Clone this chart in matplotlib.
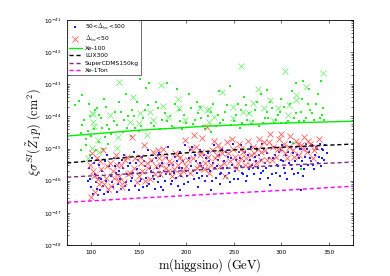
import matplotlib
matplotlib.use("Agg")
import matplotlib.pyplot as plt
import numpy as np
from matplotlib.ticker import LogLocator, NullFormatter, FixedLocator

plt.rcParams['mathtext.fontset'] = 'cm'
plt.rcParams['font.family'] = ['DejaVu Sans']

# ---- limit curves (mass in GeV, log10 sigma in cm^2) ----
line_mass = [75, 150, 225, 300, 375]
xe100_log = [-44.61, -44.43, -44.30, -44.21, -44.15]
lux300_log = [-45.45, -45.24, -45.08, -44.96, -44.86]
cdms_log = [-45.89, -45.77, -45.64, -45.52, -45.42]
xe1ton_log = [-46.67, -46.54, -46.42, -46.30, -46.17]

# ---- scatter points: (mass, log10 sigma) ----
green_dots = [(83,-43.65),(91,-43.34),(87,-43.52),(91,-44.27),(90,-44.52),(97,-44.45),(109,-43.96),
 (117,-44.27),(127,-44.27),(112,-44.35),(106,-43.75),(139,-43.98),(143,-43.8),(151,-42.85),(161,-42.97),
 (180,-42.97),(158,-43.12),(285,-43.18),(323,-42.9),(341,-42.9),(135,-44.1),(146,-44.35),(155,-44.05),
 (163,-44.22),(168,-43.55),(172,-44.4),(178,-43.9),(185,-44.3),(188,-43.62),(194,-44.15),(198,-43.95),
 (203,-43.3),(207,-44.25),(211,-43.55),(216,-44.05),(220,-44.4),(226,-43.85),(231,-44.3),(234,-43.2),
 (239,-44.1),(243,-43.65),(247,-44.28),(252,-43.95),(256,-44.35),(261,-43.4),(264,-44.1),(268,-44.25),
 (272,-43.8),(276,-44.3),(279,-43.3),(283,-44.05),(288,-43.55),(292,-44.2),(296,-43.95),(300,-44.22),
 (303,-43.7),(307,-44.15),(311,-43.2),(315,-43.9),(318,-44.15),(322,-43.45),(326,-44.05),(330,-43.8),
 (334,-44.12),(338,-43.3),(342,-43.95),(345,-44.1),(315,-42.95),(329,-43.15),(300,-43.45),(246,-43.05),
 (190,-43.15),(130,-43.55),(125,-43.85),(116,-43.7),(104,-43.8),(99,-44.0),(100,-44.6),(95,-44.7),
 (108,-44.8),(115,-44.65),(121,-44.55),(134,-44.5),(142,-44.6),(226,-44.5),(243,-45.9),(320,-45.64),
 (312,-44.83),(212,-43.9),(180,-44.15),(160,-43.65),(150,-44.45),(137,-43.3),(263,-43.65),(285,-43.85),
 (233,-43.95),(257,-43.8),(196,-44.4),(205,-43.75),(336,-43.6),
 (93,-44.1),(98,-43.6),(103,-44.4),(111,-44.05),(114,-43.45),(119,-44.4),(124,-44.15),(132,-43.85),
 (138,-44.35),(145,-44.0),(148,-43.55),(153,-44.3),(157,-43.8),(166,-44.3),(170,-43.75),(175,-44.1),
 (183,-44.0),(187,-44.35),(192,-43.8),(200,-44.2),(209,-44.1),(214,-43.7),(218,-44.3),(223,-44.0),
 (228,-43.6),(236,-44.2),(241,-43.85),(250,-44.15),(254,-43.6),(259,-44.2),(266,-43.9),(270,-44.15),
 (274,-43.55),(281,-44.2),(286,-44.05),(290,-43.75),(294,-44.1),(298,-43.85),(305,-44.2),(309,-43.6),
 (313,-44.05),(320,-43.85),(324,-44.15),(328,-43.6),(332,-43.9),(340,-44.05),(344,-43.75),
 (90,-45.05),(95,-44.9),(99,-45.2),(105,-45.05),(113,-45.0),(118,-44.85)]

green_x = [(130,-42.93),(174,-43.02),(257,-42.43),(304,-42.59),(344,-42.65),(275,-43.15),(326,-43.09),
 (238,-43.24),(144,-43.4),(191,-43.46),(192,-43.74),(215,-43.74),(222,-43.8),(249,-43.71),(260,-43.87),
 (270,-43.59),(282,-43.74),(296,-43.74),(308,-43.65),(315,-43.49),(102,-43.93),(120,-43.96),(152,-43.9),
 (162,-43.87),(176,-43.68),(101,-43.9),(102,-44.18),(103,-44.3),(128,-44.64),(141,-44.18),(150,-44.2),
 (159,-44.58),(165,-44.1),(181,-44.02),(199,-44.1),(107,-44.74),(101,-44.99),(109,-45.11),(127,-44.99),
 (97,-45.3),(224,-43.77),(229,-44.02),(224,-44.18),(249,-44.05),(268,-44.18),(291,-44.12),(307,-43.96),
 (315,-43.34),(288,-43.5),(266,-43.9)]

blue_dots = [(98,-45.6),(99,-45.95),(100,-46.2),(101,-45.3),(102,-46.4),(104,-45.8),(105,-46.05),(107,-46.45),
 (108,-45.5),(109,-45.9),(110,-46.3),(112,-45.7),(113,-46.15),(115,-45.4),(116,-46.0),(118,-46.36),
 (119,-45.55),(121,-45.85),(123,-46.2),(124,-45.3),(126,-45.75),(128,-46.1),(129,-45.45),(131,-45.95),
 (132,-46.25),(134,-45.6),(135,-45.2),(137,-46.05),(138,-45.8),(140,-46.3),(141,-45.45),(143,-45.9),
 (145,-45.1),(146,-46.15),(148,-45.65),(149,-45.35),(151,-46.0),(152,-45.75),(154,-45.25),(155,-46.2),
 (157,-45.55),(158,-45.9),(160,-45.05),(161,-46.1),(163,-45.7),(164,-45.4),(166,-45.95),(167,-46.25),
 (169,-45.6),(171,-45.15),(172,-45.85),(174,-46.2),(175,-45.45),(177,-45.7),(178,-46.0),(180,-45.3),
 (181,-44.95),(183,-45.8),(184,-46.1),(186,-45.5),(188,-45.25),(189,-45.9),(191,-46.15),(192,-45.6),
 (194,-45.1),(195,-45.85),(197,-45.4),(199,-44.9),(200,-45.7),(202,-46.05),(203,-45.3),(205,-45.55),
 (206,-44.95),(208,-45.95),(209,-45.2),(211,-45.75),(212,-46.2),(214,-45.45),(215,-45.05),(217,-45.85),
 (218,-45.6),(220,-46.0),(221,-45.3),(223,-45.15),(225,-45.7),(226,-46.3),(228,-45.45),(229,-44.9),
 (231,-45.9),(232,-45.55),(234,-45.2),(235,-46.1),(237,-45.75),(238,-45.0),(240,-45.4),(241,-45.85),
 (243,-45.6),(244,-45.25),(246,-46.05),(248,-45.5),(249,-44.85),(251,-45.7),(252,-45.35),(254,-45.95),
 (255,-45.1),(257,-45.55),(258,-44.9),(260,-45.8),(261,-45.4),(263,-46.0),(265,-45.2),(266,-45.65),
 (268,-44.95),(269,-45.5),(271,-45.8),(272,-45.25),(274,-45.05),(275,-45.6),(277,-45.95),(278,-45.35),
 (280,-44.85),(281,-45.7),(283,-45.45),(285,-45.15),(286,-45.9),(288,-46.14),(289,-45.55),(291,-45.3),
 (292,-44.95),(294,-45.75),(295,-45.5),(297,-45.1),(298,-45.85),(300,-45.35),(301,-44.9),(303,-45.6),
 (305,-45.2),(306,-45.95),(308,-45.45),(309,-44.8),(311,-45.65),(312,-45.15),(314,-45.4),(315,-44.95),
 (317,-45.75),(318,-45.3),(320,-45.55),(321,-45.0),(323,-45.85),(325,-45.25),(326,-44.85),(328,-45.5),
 (329,-45.1),(331,-45.4),(332,-44.9),(334,-45.65),(335,-45.2),(337,-45.0),(338,-45.45),(340,-44.85),
 (342,-45.3),(344,-45.05),(346,-44.9),(348,-45.15),
 (97,-46.0),(103,-45.45),(106,-46.25),(111,-45.95),(114,-46.4),(117,-45.2),(122,-46.05),(125,-45.55),
 (127,-46.35),(130,-45.7),(133,-45.35),(136,-46.15),(139,-45.55),(142,-46.0),(144,-45.75),(147,-45.45),
 (150,-46.3),(153,-45.95),(156,-45.4),(159,-46.15),(162,-45.6),(165,-45.85),(168,-45.3),(170,-46.05),
 (173,-45.55),(176,-46.3),(179,-45.8),(182,-45.5),(185,-46.0),(187,-45.75),(190,-45.4),(193,-46.3),
 (196,-45.6),(198,-46.1),(201,-45.85),(204,-45.05),(207,-45.7),(210,-45.4),(213,-45.9),(216,-45.55),
 (219,-45.2),(222,-45.85),(224,-45.4),(227,-46.0),(230,-45.6),(233,-45.35),(236,-45.8),(239,-45.6),
 (242,-45.1),(245,-45.75),(247,-45.3),(250,-45.95),(253,-45.6),(256,-45.3),(259,-45.75),(262,-45.1),
 (264,-45.85),(267,-45.35),(270,-45.6),(273,-45.4),(276,-45.2),(279,-45.75),(282,-45.0),(284,-45.6),
 (287,-45.3),(290,-45.8),(293,-45.2),(296,-45.55),(299,-45.05),(302,-45.4),(304,-45.75),(307,-45.1),
 (310,-45.5),(313,-45.8),(316,-45.2),(319,-45.0),(322,-45.4),(324,-45.65),(327,-45.0),(330,-45.3),
 (333,-45.5),(336,-44.95),(339,-45.25),(341,-45.55),(343,-45.0),(345,-45.35),(320,-46.3)]

red_x = [(99,-45.5),(100,-46.51),(101,-45.15),(103,-45.85),(106,-45.3),(108,-46.1),(111,-45.65),(113,-45.05),
 (116,-45.9),(118,-46.25),(120,-45.45),(123,-45.7),(126,-45.2),(129,-46.0),(132,-45.5),(133,-46.2),
 (136,-45.35),(139,-45.8),(143,-44.64),(145,-45.6),(148,-46.05),(151,-45.25),(154,-45.7),(156,-44.9),
 (159,-45.45),(162,-45.95),(165,-45.1),(168,-45.55),(171,-45.3),(173,-45.8),(176,-45.0),(179,-45.6),
 (182,-45.4),(185,-45.85),(188,-45.15),(191,-45.5),(194,-45.25),(197,-45.7),(199,-44.74),(202,-45.35),
 (205,-45.0),(208,-44.58),(211,-45.6),(214,-45.2),(217,-44.68),(220,-45.45),(222,-44.33),(224,-45.75),
 (227,-45.05),(230,-45.3),(233,-44.9),(235,-45.55),(238,-45.15),(241,-45.85),(243,-44.8),(246,-45.4),
 (249,-45.0),(252,-45.6),(255,-44.85),(257,-45.3),(260,-45.1),(262,-45.5),(265,-44.75),(268,-45.2),
 (270,-44.95),(273,-45.45),(276,-44.7),(279,-45.1),(282,-44.8),(285,-45.35),(288,-44.55),(291,-44.95),
 (294,-45.25),(297,-44.7),(300,-45.0),(303,-44.85),(306,-45.3),(309,-44.6),(312,-45.05),(315,-44.75),
 (318,-45.2),(321,-44.9),(324,-44.65),(327,-45.1),(330,-44.85),(333,-45.3),(336,-44.95),(339,-44.7),
 (102,-45.7),(104,-46.35),(107,-45.95),(110,-45.4),(114,-46.1),(117,-45.55),(121,-46.15),(124,-45.9),
 (127,-45.5),(130,-45.85),(135,-46.05),(138,-45.25),(141,-45.75),(146,-45.3),(150,-45.85),(153,-45.45),
 (157,-46.0),(160,-45.6),(163,-45.35),(167,-45.8),(170,-45.05),(174,-45.5),(178,-45.25),(181,-45.7),
 (184,-45.45),(187,-45.65),(190,-45.2),(193,-45.8),(196,-45.4),(200,-45.55),(204,-45.75),(207,-45.3),
 (210,-44.95),(213,-45.5),(216,-45.1),(219,-45.65),(223,-45.25),(226,-45.5),(229,-44.75),(232,-45.2),
 (236,-45.0),(240,-45.45),(244,-45.15),(248,-44.7),(251,-45.25),(254,-45.45),(258,-45.0),(263,-45.3),
 (267,-45.5),(271,-45.15),(275,-45.0),(278,-45.35),(283,-45.05),(287,-44.8),(290,-45.35),(296,-45.0),
 (299,-44.55),(304,-45.15),(308,-44.95),(313,-45.25),(317,-44.85),(323,-45.0),(328,-44.75),(334,-45.05)]

x_ticks = [100, 150, 200, 250, 300, 350]
y_ticks = [1e-48, 1e-47, 1e-46, 1e-45, 1e-44, 1e-43, 1e-42, 1e-41]


def unpack(pts):
    m = np.array([p[0] for p in pts], dtype=float)
    s = 10.0 ** np.array([p[1] for p in pts], dtype=float)
    return m, s


fig = plt.figure(figsize=(3.9, 2.76), dpi=100)
ax = fig.add_axes([0.172, 0.112, 0.733, 0.816])

m, s = unpack(green_dots)
ax.plot(m, s, linestyle='none', marker='s', markersize=1.7, color='#22ee22', mew=0)
m, s = unpack(green_x)
ax.plot(m, s, linestyle='none', marker='x', markersize=4.2, color='#77ee77', mew=0.6)
m, s = unpack(blue_dots)
ax.plot(m, s, linestyle='none', marker='s', markersize=1.9, color='#1a1aff', mew=0,
        label=r'50<$\Delta_{bw}$<100')
m, s = unpack(red_x)
ax.plot(m, s, linestyle='none', marker='x', markersize=4.2, color='#ff5a5a', mew=0.6,
        label=r'$\Delta_{bw}$<50')

lm = np.array(line_mass, dtype=float)
ax.plot(lm, 10.0 ** np.array(xe100_log), color='#00ee00', lw=1.0, label='Xe-100')
ax.plot(lm, 10.0 ** np.array(lux300_log), color='black', lw=1.0, ls=(0, (3, 2)), label='LUX300')
ax.plot(lm, 10.0 ** np.array(cdms_log), color='#7a307a', lw=1.0, ls=(0, (3, 2)), label='SuperCDMS150kg')
ax.plot(lm, 10.0 ** np.array(xe1ton_log), color='#ff00ff', lw=1.0, ls=(0, (3, 2)), label='Xe-1Ton')

ax.set_yscale('log')
ax.set_xlim(75, 375)
ax.set_ylim(1e-48, 1e-41)
ax.set_xticks(x_ticks)
ax.yaxis.set_major_locator(FixedLocator(y_ticks))
ax.yaxis.set_minor_locator(LogLocator(base=10, subs=np.arange(2, 10), numticks=20))
ax.yaxis.set_minor_formatter(NullFormatter())
ax.tick_params(which='both', direction='in', top=True, right=True, labelsize=4.2, width=0.4)
ax.tick_params(which='major', length=2.5)
ax.tick_params(which='minor', length=1.3)
for sp in ax.spines.values():
    sp.set_linewidth(0.6)

ax.set_xlabel(r'$\mathrm{m(higgsino)\ (GeV)}$', fontsize=9, labelpad=1)
ax.set_ylabel(r'$\xi\sigma^{SI}(\tilde{Z}_1 p)\ (\mathrm{cm}^2)$', fontsize=8.8, labelpad=1)

leg = ax.legend(loc='upper left', fontsize=4.3, frameon=True, fancybox=False, borderpad=0.3,
                labelspacing=0.35, handlelength=2.2, handletextpad=0.5, borderaxespad=0.0,
                markerscale=1.0)
leg.get_frame().set_edgecolor('black')
leg.get_frame().set_linewidth(0.5)

fig.savefig('out.png', dpi=100)
